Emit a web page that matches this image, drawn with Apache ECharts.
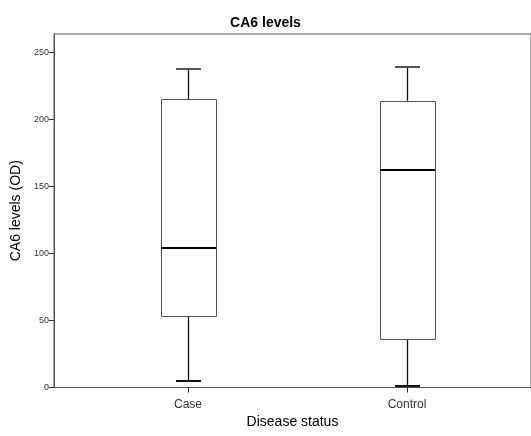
<!DOCTYPE html>
<html>
<head>
<meta charset="utf-8">
<script src="https://cdn.jsdelivr.net/npm/echarts@6/dist/echarts.min.js"></script>
<style>html,body{margin:0;padding:0;background:#fff}#c{width:531px;height:436px}</style>
</head>
<body>
<div id="c"></div>
<script>
const categories = ['Case', 'Control'];
const minVals = [5, 1];
const q1Vals = [53, 36];
const medianVals = [104, 162];
const q3Vals = [215, 214];
const maxVals = [238, 239];
const yTicks = [0, 50, 100, 150, 200, 250];
const xTicks = [0, 1];

const boxData = categories.map((c, i) => [i, minVals[i], q1Vals[i], medianVals[i], q3Vals[i], maxVals[i]]);
const FONT = '"Liberation Sans", Arial, sans-serif';

const chart = echarts.init(document.getElementById('c'), null, {renderer: 'canvas'});

function px(v) { return Math.round(v) + 0.5; }

chart.setOption({
  animation: false,
  title: {
    text: 'CA6 levels', left: 'center', top: 11,
    textStyle: {fontFamily: FONT, fontSize: 14, fontWeight: 'bold', color: '#000'}
  },
  grid: {left: 54, top: 34, right: -2, bottom: 48.5, show: true, borderColor: '#555', borderWidth: 1, backgroundColor: 'transparent'},
  xAxis: {
    type: 'value', min: -0.612, max: 1.566,
    name: 'Disease status', nameLocation: 'middle', nameGap: 28,
    nameTextStyle: {fontFamily: FONT, fontSize: 14, color: '#000'},
    axisLine: {show: true, onZero: false, lineStyle: {color: '#555', width: 1}},
    axisTick: {show: true, customValues: xTicks, length: 5, lineStyle: {color: '#222', width: 1}},
    axisLabel: {customValues: xTicks, margin: 11, fontFamily: FONT, fontSize: 12, color: '#333',
      formatter: v => categories[Math.round(v)] || ''},
    splitLine: {show: false}
  },
  yAxis: {
    type: 'value', min: 0, max: 263.8,
    name: 'CA6 levels (OD)', nameLocation: 'middle', nameGap: 27, nameRotate: 90,
    nameTextStyle: {fontFamily: FONT, fontSize: 14, color: '#000'},
    axisLine: {show: true, onZero: false, lineStyle: {color: '#555', width: 1}},
    axisTick: {show: true, customValues: yTicks, length: 5, lineStyle: {color: '#333'}},
    axisLabel: {customValues: yTicks, margin: 5, fontFamily: FONT, fontSize: 9, color: '#333'},
    splitLine: {show: false}
  },
  series: [{
    type: 'custom',
    data: boxData,
    encode: {x: 0, y: [1, 2, 3, 4, 5]},
    renderItem: function (params, api) {
      const x = api.value(0);
      const pMin = api.coord([x, api.value(1)]);
      const pQ1 = api.coord([x, api.value(2)]);
      const pMed = api.coord([x, api.value(3)]);
      const pQ3 = api.coord([x, api.value(4)]);
      const pMax = api.coord([x, api.value(5)]);
      const cx = px(pMin[0]);
      const hw = 27.5, cw = 12.5;
      return {
        type: 'group',
        children: [
          {type: 'line', shape: {x1: cx, y1: pQ3[1], x2: cx, y2: pMax[1]}, style: {stroke: '#111', lineWidth: 1.3}},
          {type: 'line', shape: {x1: cx, y1: pQ1[1], x2: cx, y2: pMin[1]}, style: {stroke: '#111', lineWidth: 1.3}},
          {type: 'line', shape: {x1: cx - cw, y1: Math.round(pMax[1]), x2: cx + cw, y2: Math.round(pMax[1])}, style: {stroke: '#555', lineWidth: 2}},
          {type: 'line', shape: {x1: cx - cw, y1: Math.round(pMin[1]), x2: cx + cw, y2: Math.round(pMin[1])}, style: {stroke: '#111', lineWidth: 2}},
          {type: 'rect', shape: {x: px(cx - hw), y: px(pQ3[1]), width: 2 * hw, height: Math.round(pQ1[1]) - Math.round(pQ3[1])},
            style: {fill: '#fff', stroke: '#555', lineWidth: 1}},
          {type: 'line', shape: {x1: cx - hw, y1: Math.round(pMed[1]), x2: cx + hw, y2: Math.round(pMed[1])}, style: {stroke: '#000', lineWidth: 2}}
        ]
      };
    }
  }]
});
</script>
</body>
</html>
